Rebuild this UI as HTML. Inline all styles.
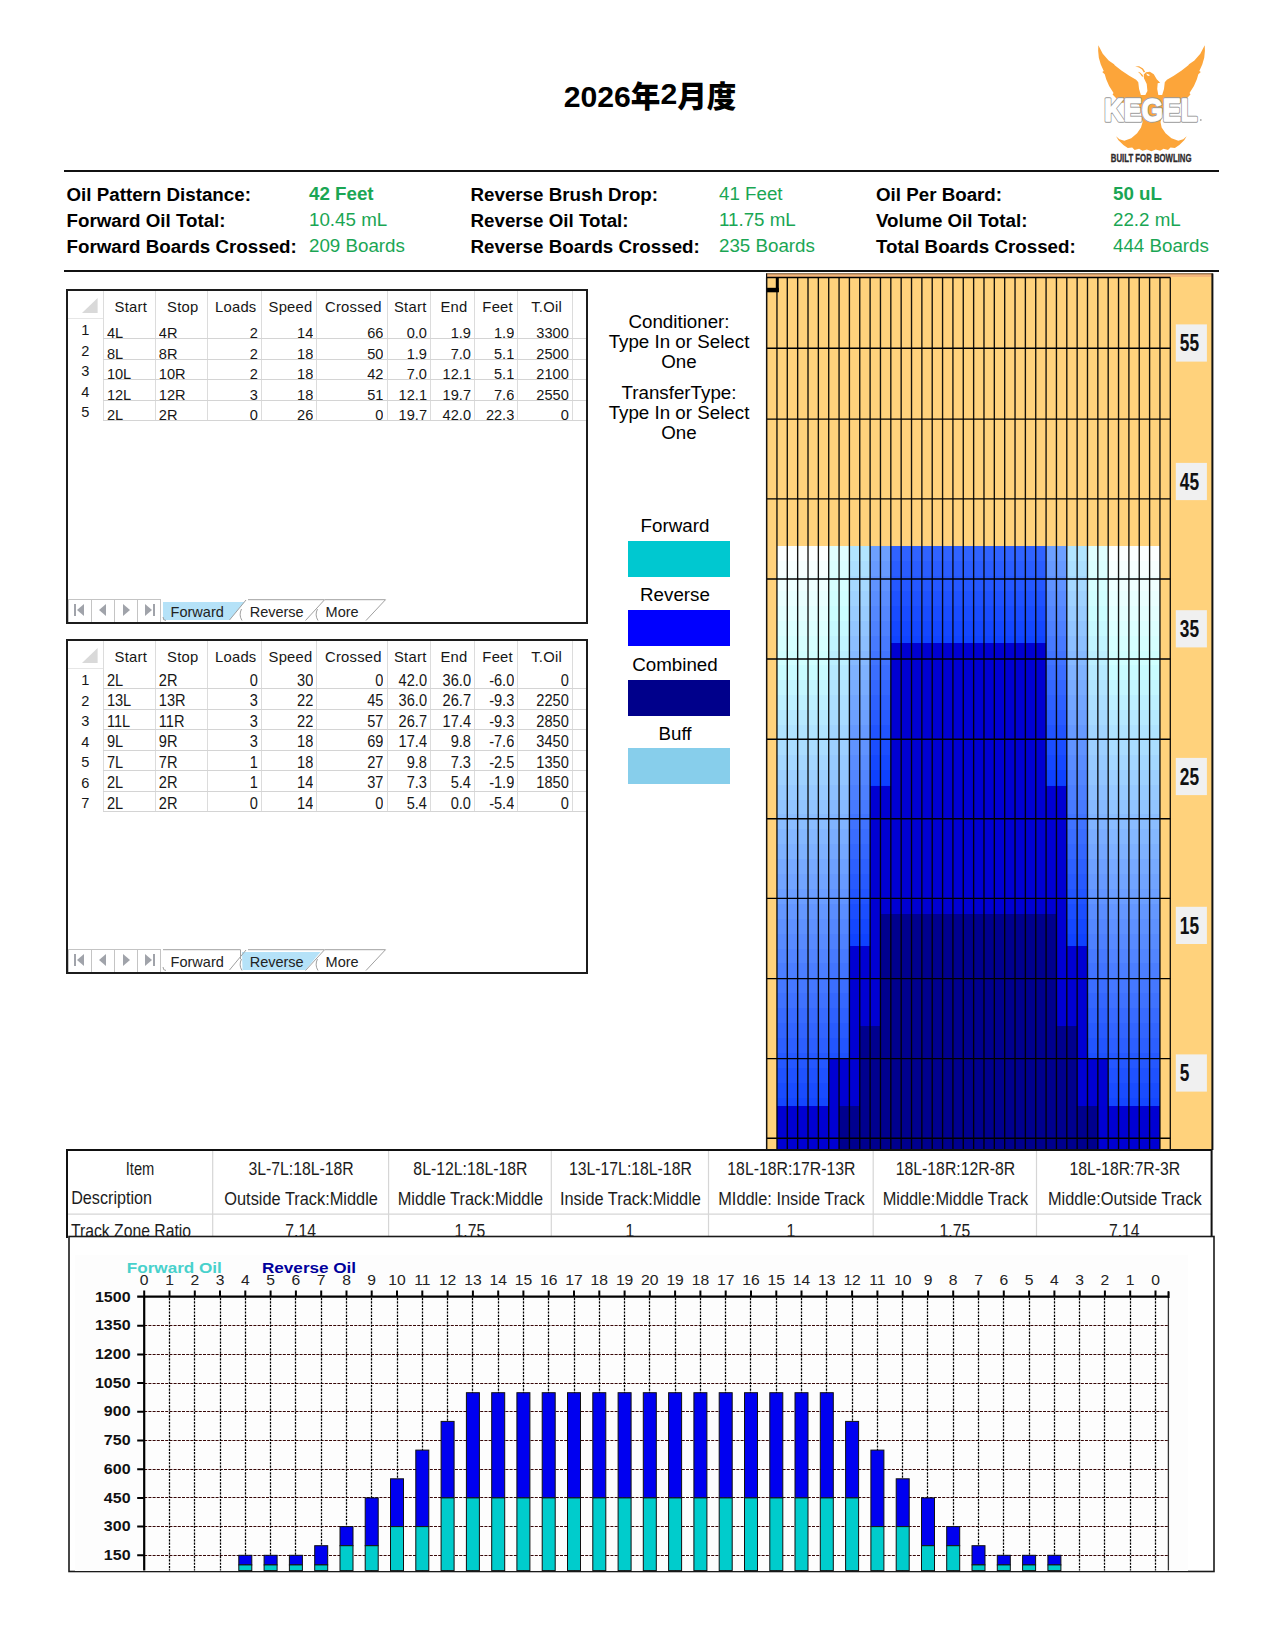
<!DOCTYPE html>
<html lang="ja"><head><meta charset="utf-8"><title>Oil Pattern 2026年2月度</title>
<style>
html,body{margin:0;padding:0;background:#fff;}
body{width:1274px;height:1651px;position:relative;overflow:hidden;font-family:"Liberation Sans","Noto Sans CJK JP",sans-serif;color:#000;}
.abs{position:absolute;}
.title{position:absolute;left:0;width:1300px;top:77.4px;text-align:center;font-weight:bold;font-size:30.2px;line-height:36px;letter-spacing:0;white-space:nowrap;}
.title .cj{font-family:"Noto Sans CJK JP","Liberation Sans",sans-serif;font-size:29.6px;font-weight:900;}
.title .up{position:relative;top:-3px;}
.rule{position:absolute;left:64px;width:1155px;height:2px;background:#111;}
.st{position:absolute;font-size:18.75px;line-height:26px;white-space:nowrap;}
.st b{font-weight:bold;}
.lb{font-weight:bold;color:#000;}
.gv{color:#1aa654;}

.gbox{position:absolute;left:66px;width:518px;border:2px solid #1c1c1c;background:#fff;overflow:hidden;box-sizing:content-box;}
.gbox div{position:absolute;white-space:nowrap;}
.gh{font-size:14.8px;line-height:18px;color:#161616;text-align:center;letter-spacing:0.25px;}
.gc{font-size:14.6px;line-height:18px;color:#161616;height:18.5px;overflow:hidden;}
.gn{font-size:14.6px;line-height:18px;color:#161616;text-align:center;}
.vl{width:1px;background:#dcdcdc;}
.hl{height:1px;background:#d4d4d4;}
.tab{font-size:14.5px;line-height:18px;color:#222;}
.nav{border:1px solid #c4c4c4;height:21.5px;width:22px;background:#fff;}

.ct{position:absolute;left:594px;width:170px;text-align:center;font-size:18.75px;line-height:20.3px;color:#000;white-space:nowrap;}
.lg{position:absolute;left:615px;width:120px;text-align:center;font-size:18.75px;line-height:20px;color:#000;}
.sw{position:absolute;left:628px;width:101.5px;height:35.7px;}
</style></head>
<body>
<div class="title">2026<span class="cj">年</span><span class="up">2</span><span class="cj">月度</span></div>
<div class="rule" style="top:169.5px"></div>
<div class="rule" style="top:269.5px"></div>
<div class="st lb" style="left:66.5px;top:181.7px">Oil Pattern Distance:</div>
<div class="st gv" style="left:309px;top:181.0px;font-weight:bold;">42 Feet</div>
<div class="st lb" style="left:66.5px;top:207.7px">Forward Oil Total:</div>
<div class="st gv" style="left:309px;top:207.0px;">10.45 mL</div>
<div class="st lb" style="left:66.5px;top:233.7px">Forward Boards Crossed:</div>
<div class="st gv" style="left:309px;top:233.0px;">209 Boards</div>
<div class="st lb" style="left:470.5px;top:181.7px">Reverse Brush Drop:</div>
<div class="st gv" style="left:719px;top:181.0px;">41 Feet</div>
<div class="st lb" style="left:470.5px;top:207.7px">Reverse Oil Total:</div>
<div class="st gv" style="left:719px;top:207.0px;">11.75 mL</div>
<div class="st lb" style="left:470.5px;top:233.7px">Reverse Boards Crossed:</div>
<div class="st gv" style="left:719px;top:233.0px;">235 Boards</div>
<div class="st lb" style="left:876px;top:181.7px">Oil Per Board:</div>
<div class="st gv" style="left:1113px;top:181.0px;font-weight:bold;">50 uL</div>
<div class="st lb" style="left:876px;top:207.7px">Volume Oil Total:</div>
<div class="st gv" style="left:1113px;top:207.0px;">22.2 mL</div>
<div class="st lb" style="left:876px;top:233.7px">Total Boards Crossed:</div>
<div class="st gv" style="left:1113px;top:233.0px;">444 Boards</div>
<svg style="position:absolute;left:1060px;top:30px" width="180" height="150" viewBox="1060 30 180 150">
<path fill="#fca53a" d="M1098.34,45.36 L1102.76,53.70 L1108.65,60.57 L1114.04,64.30 L1114.73,65.28 L1121.40,70.38 L1129.25,75.78 L1136.12,79.71 L1138.28,82.36 L1139.07,89.03 L1141.03,95.41 L1143.78,98.06 L1144.96,102.77 L1119.44,102.77 L1115.71,97.67 L1112.57,94.62 L1113.55,92.96 L1109.14,86.09 L1106.19,79.22 L1104.72,74.31 L1102.27,71.95 L1103.74,70.88 L1100.79,64.50 L1098.83,57.63 L1098.15,50.76Z"/>
<path fill="#fca53a" d="M1204.72,45.36 L1200.30,53.70 L1194.42,60.57 L1189.02,64.30 L1188.33,65.28 L1181.66,70.38 L1173.81,75.78 L1166.94,79.71 L1164.78,82.36 L1163.99,89.03 L1162.03,95.41 L1159.28,98.06 L1158.11,102.77 L1183.62,102.77 L1187.35,97.67 L1190.49,94.62 L1189.51,92.96 L1193.93,86.09 L1196.87,79.22 L1198.34,74.31 L1200.79,71.95 L1199.32,70.88 L1202.27,64.50 L1204.23,57.63 L1204.92,50.76Z"/>
<path fill="#fca53a" d="M1143.78,98.06 L1147.41,90.99 L1146.72,84.12 L1143.97,78.24 L1143.78,74.51 L1145.94,72.35 L1149.86,71.86 L1153.79,74.31 L1156.73,79.22 L1160.17,82.65 L1157.71,83.34 L1157.22,89.03 L1158.69,96.88 L1159.87,98.06 L1160.66,102.77 L1142.99,102.77Z"/>
<path fill="#fff" d="M1146.43,73.53 L1149.86,75.10 L1148.88,76.08 L1146.92,75.29Z"/>
<path fill="#fca53a" d="M1135.14,66.46 L1139.07,66.26 L1142.99,68.42 L1145.15,71.86 L1143.78,72.54 L1142.01,69.40 L1139.07,67.44Z"/>
<path fill="#fca53a" d="M1137.89,71.86 L1140.05,72.54 L1142.50,74.80 L1143.48,76.76 L1142.01,76.47 L1140.25,74.11Z"/>
<path fill="#fca53a" d="M1119.44,95.00 L1184.21,95.00 L1178.32,100.89 L1164.58,104.81 L1160.66,121.50 L1142.50,121.50 L1139.07,104.81 L1125.33,100.89Z"/>
<path fill="#fca53a" d="M1142.99,120.52 L1141.03,127.38 L1137.11,133.27 L1131.22,138.18 L1124.35,140.63 L1119.44,139.16 L1116.01,136.22 L1118.46,140.34 L1123.37,145.05 L1127.78,147.99 L1132.20,147.50 L1134.65,149.96 L1139.07,148.78 L1142.50,150.74 L1146.92,149.47 L1151.33,151.13 L1155.75,149.47 L1160.17,150.74 L1163.60,148.78 L1168.02,149.96 L1170.47,147.50 L1174.89,147.99 L1179.30,145.05 L1184.21,140.34 L1186.66,136.22 L1183.23,139.36 L1178.32,140.63 L1171.45,138.18 L1165.56,133.27 L1161.64,127.38 L1160.17,120.52Z"/>
<text x="1150.8" y="121.2" text-anchor="middle" font-family="Liberation Sans, sans-serif" font-weight="bold" font-size="31.5" textLength="93" lengthAdjust="spacingAndGlyphs" fill="#9a9a9a" stroke="#9a9a9a" stroke-width="3.4" stroke-linejoin="round">KEGEL</text>
<text x="1150.8" y="121.2" text-anchor="middle" font-family="Liberation Sans, sans-serif" font-weight="bold" font-size="31.5" textLength="93" lengthAdjust="spacingAndGlyphs" fill="#fff" stroke="#fff" stroke-width="1.6" stroke-linejoin="round">KEGEL</text>
<circle cx="1200.8" cy="120" r="0.9" fill="#aaa"/>
<text x="1151.2" y="161.5" text-anchor="middle" font-family="Liberation Sans, sans-serif" font-weight="bold" font-size="11.4" fill="#2e2a2b" stroke="#2e2a2b" stroke-width="0.35" textLength="80.7" lengthAdjust="spacingAndGlyphs">BUILT FOR BOWLING</text>
</svg>
<div class="gbox" style="top:289px;height:331.4px">
<svg class="abs" style="position:absolute;left:14.299999999999997px;top:7.399999999999977px" width="16" height="16"><polygon points="15.6,0 15.6,15 0,15" fill="#d9d9d9"/></svg>
<div class="hl" style="left:0;top:27px;width:35.400000000000006px;background:#e6e6e6"></div>
<div class="vl" style="left:34.9px;top:0;height:130.1px"></div>
<div class="vl" style="left:86.8px;top:0;height:130.1px"></div>
<div class="vl" style="left:138.7px;top:0;height:130.1px"></div>
<div class="vl" style="left:192.8px;top:0;height:130.1px"></div>
<div class="vl" style="left:248.3px;top:0;height:130.1px"></div>
<div class="vl" style="left:318.5px;top:0;height:130.1px"></div>
<div class="vl" style="left:362.0px;top:0;height:130.1px"></div>
<div class="vl" style="left:406.0px;top:0;height:130.1px"></div>
<div class="vl" style="left:449.3px;top:0;height:130.1px"></div>
<div class="vl" style="left:503.8px;top:0;height:130.1px"></div>
<div class="gh" style="left:36.9px;width:51.9px;top:6.5px">Start</div>
<div class="gh" style="left:88.8px;width:51.9px;top:6.5px">Stop</div>
<div class="gh" style="left:140.7px;width:54.1px;top:6.5px">Loads</div>
<div class="gh" style="left:194.8px;width:55.5px;top:6.5px">Speed</div>
<div class="gh" style="left:250.3px;width:70.2px;top:6.5px">Crossed</div>
<div class="gh" style="left:320.5px;width:43.5px;top:6.5px">Start</div>
<div class="gh" style="left:364.0px;width:44.0px;top:6.5px">End</div>
<div class="gh" style="left:408.0px;width:43.3px;top:6.5px">Feet</div>
<div class="gh" style="left:451.3px;width:54.5px;top:6.5px">T.Oil</div>
<div class="hl" style="left:35.4px;top:47.1px;width:483.6px"></div>
<div class="gn" style="left:0;width:34.4px;top:30.1px">1</div>
<div class="gc" style="left:38.9px;width:47.9px;text-align:left;top:33.1px;transform:scaleY(1.05);transform-origin:50% 80%">4L</div>
<div class="gc" style="left:90.8px;width:47.9px;text-align:left;top:33.1px;transform:scaleY(1.05);transform-origin:50% 80%">4R</div>
<div class="gc" style="left:139.2px;width:50.6px;text-align:right;top:33.1px;transform:scaleY(1.05);transform-origin:50% 80%">2</div>
<div class="gc" style="left:193.3px;width:52.0px;text-align:right;top:33.1px;transform:scaleY(1.05);transform-origin:50% 80%">14</div>
<div class="gc" style="left:248.8px;width:66.7px;text-align:right;top:33.1px;transform:scaleY(1.05);transform-origin:50% 80%">66</div>
<div class="gc" style="left:319.0px;width:40.0px;text-align:right;top:33.1px;transform:scaleY(1.05);transform-origin:50% 80%">0.0</div>
<div class="gc" style="left:362.5px;width:40.5px;text-align:right;top:33.1px;transform:scaleY(1.05);transform-origin:50% 80%">1.9</div>
<div class="gc" style="left:406.5px;width:39.8px;text-align:right;top:33.1px;transform:scaleY(1.05);transform-origin:50% 80%">1.9</div>
<div class="gc" style="left:449.8px;width:51.0px;text-align:right;top:33.1px;transform:scaleY(1.05);transform-origin:50% 80%">3300</div>
<div class="hl" style="left:35.4px;top:67.6px;width:483.6px"></div>
<div class="gn" style="left:0;width:34.4px;top:50.6px">2</div>
<div class="gc" style="left:38.9px;width:47.9px;text-align:left;top:53.6px;transform:scaleY(1.05);transform-origin:50% 80%">8L</div>
<div class="gc" style="left:90.8px;width:47.9px;text-align:left;top:53.6px;transform:scaleY(1.05);transform-origin:50% 80%">8R</div>
<div class="gc" style="left:139.2px;width:50.6px;text-align:right;top:53.6px;transform:scaleY(1.05);transform-origin:50% 80%">2</div>
<div class="gc" style="left:193.3px;width:52.0px;text-align:right;top:53.6px;transform:scaleY(1.05);transform-origin:50% 80%">18</div>
<div class="gc" style="left:248.8px;width:66.7px;text-align:right;top:53.6px;transform:scaleY(1.05);transform-origin:50% 80%">50</div>
<div class="gc" style="left:319.0px;width:40.0px;text-align:right;top:53.6px;transform:scaleY(1.05);transform-origin:50% 80%">1.9</div>
<div class="gc" style="left:362.5px;width:40.5px;text-align:right;top:53.6px;transform:scaleY(1.05);transform-origin:50% 80%">7.0</div>
<div class="gc" style="left:406.5px;width:39.8px;text-align:right;top:53.6px;transform:scaleY(1.05);transform-origin:50% 80%">5.1</div>
<div class="gc" style="left:449.8px;width:51.0px;text-align:right;top:53.6px;transform:scaleY(1.05);transform-origin:50% 80%">2500</div>
<div class="hl" style="left:35.4px;top:88.1px;width:483.6px"></div>
<div class="gn" style="left:0;width:34.4px;top:71.1px">3</div>
<div class="gc" style="left:38.9px;width:47.9px;text-align:left;top:74.1px;transform:scaleY(1.05);transform-origin:50% 80%">10L</div>
<div class="gc" style="left:90.8px;width:47.9px;text-align:left;top:74.1px;transform:scaleY(1.05);transform-origin:50% 80%">10R</div>
<div class="gc" style="left:139.2px;width:50.6px;text-align:right;top:74.1px;transform:scaleY(1.05);transform-origin:50% 80%">2</div>
<div class="gc" style="left:193.3px;width:52.0px;text-align:right;top:74.1px;transform:scaleY(1.05);transform-origin:50% 80%">18</div>
<div class="gc" style="left:248.8px;width:66.7px;text-align:right;top:74.1px;transform:scaleY(1.05);transform-origin:50% 80%">42</div>
<div class="gc" style="left:319.0px;width:40.0px;text-align:right;top:74.1px;transform:scaleY(1.05);transform-origin:50% 80%">7.0</div>
<div class="gc" style="left:362.5px;width:40.5px;text-align:right;top:74.1px;transform:scaleY(1.05);transform-origin:50% 80%">12.1</div>
<div class="gc" style="left:406.5px;width:39.8px;text-align:right;top:74.1px;transform:scaleY(1.05);transform-origin:50% 80%">5.1</div>
<div class="gc" style="left:449.8px;width:51.0px;text-align:right;top:74.1px;transform:scaleY(1.05);transform-origin:50% 80%">2100</div>
<div class="hl" style="left:35.4px;top:108.6px;width:483.6px"></div>
<div class="gn" style="left:0;width:34.4px;top:91.6px">4</div>
<div class="gc" style="left:38.9px;width:47.9px;text-align:left;top:94.6px;transform:scaleY(1.05);transform-origin:50% 80%">12L</div>
<div class="gc" style="left:90.8px;width:47.9px;text-align:left;top:94.6px;transform:scaleY(1.05);transform-origin:50% 80%">12R</div>
<div class="gc" style="left:139.2px;width:50.6px;text-align:right;top:94.6px;transform:scaleY(1.05);transform-origin:50% 80%">3</div>
<div class="gc" style="left:193.3px;width:52.0px;text-align:right;top:94.6px;transform:scaleY(1.05);transform-origin:50% 80%">18</div>
<div class="gc" style="left:248.8px;width:66.7px;text-align:right;top:94.6px;transform:scaleY(1.05);transform-origin:50% 80%">51</div>
<div class="gc" style="left:319.0px;width:40.0px;text-align:right;top:94.6px;transform:scaleY(1.05);transform-origin:50% 80%">12.1</div>
<div class="gc" style="left:362.5px;width:40.5px;text-align:right;top:94.6px;transform:scaleY(1.05);transform-origin:50% 80%">19.7</div>
<div class="gc" style="left:406.5px;width:39.8px;text-align:right;top:94.6px;transform:scaleY(1.05);transform-origin:50% 80%">7.6</div>
<div class="gc" style="left:449.8px;width:51.0px;text-align:right;top:94.6px;transform:scaleY(1.05);transform-origin:50% 80%">2550</div>
<div class="hl" style="left:35.4px;top:129.1px;width:483.6px"></div>
<div class="gn" style="left:0;width:34.4px;top:112.1px">5</div>
<div class="gc" style="left:38.9px;width:47.9px;text-align:left;top:115.1px;transform:scaleY(1.05);transform-origin:50% 80%">2L</div>
<div class="gc" style="left:90.8px;width:47.9px;text-align:left;top:115.1px;transform:scaleY(1.05);transform-origin:50% 80%">2R</div>
<div class="gc" style="left:139.2px;width:50.6px;text-align:right;top:115.1px;transform:scaleY(1.05);transform-origin:50% 80%">0</div>
<div class="gc" style="left:193.3px;width:52.0px;text-align:right;top:115.1px;transform:scaleY(1.05);transform-origin:50% 80%">26</div>
<div class="gc" style="left:248.8px;width:66.7px;text-align:right;top:115.1px;transform:scaleY(1.05);transform-origin:50% 80%">0</div>
<div class="gc" style="left:319.0px;width:40.0px;text-align:right;top:115.1px;transform:scaleY(1.05);transform-origin:50% 80%">19.7</div>
<div class="gc" style="left:362.5px;width:40.5px;text-align:right;top:115.1px;transform:scaleY(1.05);transform-origin:50% 80%">42.0</div>
<div class="gc" style="left:406.5px;width:39.8px;text-align:right;top:115.1px;transform:scaleY(1.05);transform-origin:50% 80%">22.3</div>
<div class="gc" style="left:449.8px;width:51.0px;text-align:right;top:115.1px;transform:scaleY(1.05);transform-origin:50% 80%">0</div>
<div class="nav" style="left:0.0px;top:308.20000000000005px"></div>
<div class="nav" style="left:23.0px;top:308.20000000000005px"></div>
<div class="nav" style="left:46.0px;top:308.20000000000005px"></div>
<div class="nav" style="left:69.0px;top:308.20000000000005px"></div>
<svg style="position:absolute;left:0;top:308.20000000000005px" width="94" height="22"><rect x="6" y="5" width="2" height="12" fill="#a0a3aa"/><polygon points="16,5 16,17 9,11" fill="#a0a3aa"/><polygon points="38,5 38,17 31,11" fill="#a0a3aa"/><polygon points="55,5 55,17 62,11" fill="#a0a3aa"/><polygon points="77,5 77,17 84,11" fill="#a0a3aa"/><rect x="85" y="5" width="2" height="12" fill="#a0a3aa"/></svg>
<svg style="position:absolute;left:92.0px;top:307px" width="240" height="24" viewBox="160 598 240 24"><polygon points="163,602 244.5,602 229.5,620 163,620" fill="#b5e2f8"/><path d="M246,600 L229.5,620" stroke="#a0a0a0" fill="none"/><path d="M163,617 Q163,620.5 166,620.5" stroke="#a0a0a0" fill="none"/><path d="M248,599.7 H324.6 L305.5,620.5" stroke="#a0a0a0" fill="none"/><path d="M241.5,609 Q238.5,615 242,620.5" stroke="#a0a0a0" fill="none"/><path d="M325,599.7 H385.5 L366,620.5" stroke="#a0a0a0" fill="none"/><path d="M317.5,609 Q314.5,615 318,620.5" stroke="#a0a0a0" fill="none"/></svg>
<div class="tab" style="left:102.6px;top:312.2px">Forward</div>
<div class="tab" style="left:181.7px;top:312.2px">Reverse</div>
<div class="tab" style="left:257.6px;top:312.2px">More</div>
</div>
<div class="gbox" style="top:639px;height:331.4px">
<svg class="abs" style="position:absolute;left:14.299999999999997px;top:7.399999999999977px" width="16" height="16"><polygon points="15.6,0 15.6,15 0,15" fill="#d9d9d9"/></svg>
<div class="hl" style="left:0;top:27px;width:35.400000000000006px;background:#e6e6e6"></div>
<div class="vl" style="left:34.9px;top:0;height:171.1px"></div>
<div class="vl" style="left:86.8px;top:0;height:171.1px"></div>
<div class="vl" style="left:138.7px;top:0;height:171.1px"></div>
<div class="vl" style="left:192.8px;top:0;height:171.1px"></div>
<div class="vl" style="left:248.3px;top:0;height:171.1px"></div>
<div class="vl" style="left:318.5px;top:0;height:171.1px"></div>
<div class="vl" style="left:362.0px;top:0;height:171.1px"></div>
<div class="vl" style="left:406.0px;top:0;height:171.1px"></div>
<div class="vl" style="left:449.3px;top:0;height:171.1px"></div>
<div class="vl" style="left:503.8px;top:0;height:171.1px"></div>
<div class="gh" style="left:36.9px;width:51.9px;top:6.5px">Start</div>
<div class="gh" style="left:88.8px;width:51.9px;top:6.5px">Stop</div>
<div class="gh" style="left:140.7px;width:54.1px;top:6.5px">Loads</div>
<div class="gh" style="left:194.8px;width:55.5px;top:6.5px">Speed</div>
<div class="gh" style="left:250.3px;width:70.2px;top:6.5px">Crossed</div>
<div class="gh" style="left:320.5px;width:43.5px;top:6.5px">Start</div>
<div class="gh" style="left:364.0px;width:44.0px;top:6.5px">End</div>
<div class="gh" style="left:408.0px;width:43.3px;top:6.5px">Feet</div>
<div class="gh" style="left:451.3px;width:54.5px;top:6.5px">T.Oil</div>
<div class="hl" style="left:35.4px;top:47.1px;width:483.6px"></div>
<div class="gn" style="left:0;width:34.4px;top:30.1px">1</div>
<div class="gc" style="left:38.9px;width:47.9px;text-align:left;top:30.7px;transform:scaleY(1.09);transform-origin:50% 80%">2L</div>
<div class="gc" style="left:90.8px;width:47.9px;text-align:left;top:30.7px;transform:scaleY(1.09);transform-origin:50% 80%">2R</div>
<div class="gc" style="left:139.2px;width:50.6px;text-align:right;top:30.7px;transform:scaleY(1.09);transform-origin:50% 80%">0</div>
<div class="gc" style="left:193.3px;width:52.0px;text-align:right;top:30.7px;transform:scaleY(1.09);transform-origin:50% 80%">30</div>
<div class="gc" style="left:248.8px;width:66.7px;text-align:right;top:30.7px;transform:scaleY(1.09);transform-origin:50% 80%">0</div>
<div class="gc" style="left:319.0px;width:40.0px;text-align:right;top:30.7px;transform:scaleY(1.09);transform-origin:50% 80%">42.0</div>
<div class="gc" style="left:362.5px;width:40.5px;text-align:right;top:30.7px;transform:scaleY(1.09);transform-origin:50% 80%">36.0</div>
<div class="gc" style="left:406.5px;width:39.8px;text-align:right;top:30.7px;transform:scaleY(1.09);transform-origin:50% 80%">-6.0</div>
<div class="gc" style="left:449.8px;width:51.0px;text-align:right;top:30.7px;transform:scaleY(1.09);transform-origin:50% 80%">0</div>
<div class="hl" style="left:35.4px;top:67.6px;width:483.6px"></div>
<div class="gn" style="left:0;width:34.4px;top:50.6px">2</div>
<div class="gc" style="left:38.9px;width:47.9px;text-align:left;top:51.2px;transform:scaleY(1.09);transform-origin:50% 80%">13L</div>
<div class="gc" style="left:90.8px;width:47.9px;text-align:left;top:51.2px;transform:scaleY(1.09);transform-origin:50% 80%">13R</div>
<div class="gc" style="left:139.2px;width:50.6px;text-align:right;top:51.2px;transform:scaleY(1.09);transform-origin:50% 80%">3</div>
<div class="gc" style="left:193.3px;width:52.0px;text-align:right;top:51.2px;transform:scaleY(1.09);transform-origin:50% 80%">22</div>
<div class="gc" style="left:248.8px;width:66.7px;text-align:right;top:51.2px;transform:scaleY(1.09);transform-origin:50% 80%">45</div>
<div class="gc" style="left:319.0px;width:40.0px;text-align:right;top:51.2px;transform:scaleY(1.09);transform-origin:50% 80%">36.0</div>
<div class="gc" style="left:362.5px;width:40.5px;text-align:right;top:51.2px;transform:scaleY(1.09);transform-origin:50% 80%">26.7</div>
<div class="gc" style="left:406.5px;width:39.8px;text-align:right;top:51.2px;transform:scaleY(1.09);transform-origin:50% 80%">-9.3</div>
<div class="gc" style="left:449.8px;width:51.0px;text-align:right;top:51.2px;transform:scaleY(1.09);transform-origin:50% 80%">2250</div>
<div class="hl" style="left:35.4px;top:88.1px;width:483.6px"></div>
<div class="gn" style="left:0;width:34.4px;top:71.1px">3</div>
<div class="gc" style="left:38.9px;width:47.9px;text-align:left;top:71.7px;transform:scaleY(1.09);transform-origin:50% 80%">11L</div>
<div class="gc" style="left:90.8px;width:47.9px;text-align:left;top:71.7px;transform:scaleY(1.09);transform-origin:50% 80%">11R</div>
<div class="gc" style="left:139.2px;width:50.6px;text-align:right;top:71.7px;transform:scaleY(1.09);transform-origin:50% 80%">3</div>
<div class="gc" style="left:193.3px;width:52.0px;text-align:right;top:71.7px;transform:scaleY(1.09);transform-origin:50% 80%">22</div>
<div class="gc" style="left:248.8px;width:66.7px;text-align:right;top:71.7px;transform:scaleY(1.09);transform-origin:50% 80%">57</div>
<div class="gc" style="left:319.0px;width:40.0px;text-align:right;top:71.7px;transform:scaleY(1.09);transform-origin:50% 80%">26.7</div>
<div class="gc" style="left:362.5px;width:40.5px;text-align:right;top:71.7px;transform:scaleY(1.09);transform-origin:50% 80%">17.4</div>
<div class="gc" style="left:406.5px;width:39.8px;text-align:right;top:71.7px;transform:scaleY(1.09);transform-origin:50% 80%">-9.3</div>
<div class="gc" style="left:449.8px;width:51.0px;text-align:right;top:71.7px;transform:scaleY(1.09);transform-origin:50% 80%">2850</div>
<div class="hl" style="left:35.4px;top:108.6px;width:483.6px"></div>
<div class="gn" style="left:0;width:34.4px;top:91.6px">4</div>
<div class="gc" style="left:38.9px;width:47.9px;text-align:left;top:92.2px;transform:scaleY(1.09);transform-origin:50% 80%">9L</div>
<div class="gc" style="left:90.8px;width:47.9px;text-align:left;top:92.2px;transform:scaleY(1.09);transform-origin:50% 80%">9R</div>
<div class="gc" style="left:139.2px;width:50.6px;text-align:right;top:92.2px;transform:scaleY(1.09);transform-origin:50% 80%">3</div>
<div class="gc" style="left:193.3px;width:52.0px;text-align:right;top:92.2px;transform:scaleY(1.09);transform-origin:50% 80%">18</div>
<div class="gc" style="left:248.8px;width:66.7px;text-align:right;top:92.2px;transform:scaleY(1.09);transform-origin:50% 80%">69</div>
<div class="gc" style="left:319.0px;width:40.0px;text-align:right;top:92.2px;transform:scaleY(1.09);transform-origin:50% 80%">17.4</div>
<div class="gc" style="left:362.5px;width:40.5px;text-align:right;top:92.2px;transform:scaleY(1.09);transform-origin:50% 80%">9.8</div>
<div class="gc" style="left:406.5px;width:39.8px;text-align:right;top:92.2px;transform:scaleY(1.09);transform-origin:50% 80%">-7.6</div>
<div class="gc" style="left:449.8px;width:51.0px;text-align:right;top:92.2px;transform:scaleY(1.09);transform-origin:50% 80%">3450</div>
<div class="hl" style="left:35.4px;top:129.1px;width:483.6px"></div>
<div class="gn" style="left:0;width:34.4px;top:112.1px">5</div>
<div class="gc" style="left:38.9px;width:47.9px;text-align:left;top:112.7px;transform:scaleY(1.09);transform-origin:50% 80%">7L</div>
<div class="gc" style="left:90.8px;width:47.9px;text-align:left;top:112.7px;transform:scaleY(1.09);transform-origin:50% 80%">7R</div>
<div class="gc" style="left:139.2px;width:50.6px;text-align:right;top:112.7px;transform:scaleY(1.09);transform-origin:50% 80%">1</div>
<div class="gc" style="left:193.3px;width:52.0px;text-align:right;top:112.7px;transform:scaleY(1.09);transform-origin:50% 80%">18</div>
<div class="gc" style="left:248.8px;width:66.7px;text-align:right;top:112.7px;transform:scaleY(1.09);transform-origin:50% 80%">27</div>
<div class="gc" style="left:319.0px;width:40.0px;text-align:right;top:112.7px;transform:scaleY(1.09);transform-origin:50% 80%">9.8</div>
<div class="gc" style="left:362.5px;width:40.5px;text-align:right;top:112.7px;transform:scaleY(1.09);transform-origin:50% 80%">7.3</div>
<div class="gc" style="left:406.5px;width:39.8px;text-align:right;top:112.7px;transform:scaleY(1.09);transform-origin:50% 80%">-2.5</div>
<div class="gc" style="left:449.8px;width:51.0px;text-align:right;top:112.7px;transform:scaleY(1.09);transform-origin:50% 80%">1350</div>
<div class="hl" style="left:35.4px;top:149.6px;width:483.6px"></div>
<div class="gn" style="left:0;width:34.4px;top:132.6px">6</div>
<div class="gc" style="left:38.9px;width:47.9px;text-align:left;top:133.2px;transform:scaleY(1.09);transform-origin:50% 80%">2L</div>
<div class="gc" style="left:90.8px;width:47.9px;text-align:left;top:133.2px;transform:scaleY(1.09);transform-origin:50% 80%">2R</div>
<div class="gc" style="left:139.2px;width:50.6px;text-align:right;top:133.2px;transform:scaleY(1.09);transform-origin:50% 80%">1</div>
<div class="gc" style="left:193.3px;width:52.0px;text-align:right;top:133.2px;transform:scaleY(1.09);transform-origin:50% 80%">14</div>
<div class="gc" style="left:248.8px;width:66.7px;text-align:right;top:133.2px;transform:scaleY(1.09);transform-origin:50% 80%">37</div>
<div class="gc" style="left:319.0px;width:40.0px;text-align:right;top:133.2px;transform:scaleY(1.09);transform-origin:50% 80%">7.3</div>
<div class="gc" style="left:362.5px;width:40.5px;text-align:right;top:133.2px;transform:scaleY(1.09);transform-origin:50% 80%">5.4</div>
<div class="gc" style="left:406.5px;width:39.8px;text-align:right;top:133.2px;transform:scaleY(1.09);transform-origin:50% 80%">-1.9</div>
<div class="gc" style="left:449.8px;width:51.0px;text-align:right;top:133.2px;transform:scaleY(1.09);transform-origin:50% 80%">1850</div>
<div class="hl" style="left:35.4px;top:170.1px;width:483.6px"></div>
<div class="gn" style="left:0;width:34.4px;top:153.1px">7</div>
<div class="gc" style="left:38.9px;width:47.9px;text-align:left;top:153.7px;transform:scaleY(1.09);transform-origin:50% 80%">2L</div>
<div class="gc" style="left:90.8px;width:47.9px;text-align:left;top:153.7px;transform:scaleY(1.09);transform-origin:50% 80%">2R</div>
<div class="gc" style="left:139.2px;width:50.6px;text-align:right;top:153.7px;transform:scaleY(1.09);transform-origin:50% 80%">0</div>
<div class="gc" style="left:193.3px;width:52.0px;text-align:right;top:153.7px;transform:scaleY(1.09);transform-origin:50% 80%">14</div>
<div class="gc" style="left:248.8px;width:66.7px;text-align:right;top:153.7px;transform:scaleY(1.09);transform-origin:50% 80%">0</div>
<div class="gc" style="left:319.0px;width:40.0px;text-align:right;top:153.7px;transform:scaleY(1.09);transform-origin:50% 80%">5.4</div>
<div class="gc" style="left:362.5px;width:40.5px;text-align:right;top:153.7px;transform:scaleY(1.09);transform-origin:50% 80%">0.0</div>
<div class="gc" style="left:406.5px;width:39.8px;text-align:right;top:153.7px;transform:scaleY(1.09);transform-origin:50% 80%">-5.4</div>
<div class="gc" style="left:449.8px;width:51.0px;text-align:right;top:153.7px;transform:scaleY(1.09);transform-origin:50% 80%">0</div>
<div class="nav" style="left:0.0px;top:308.20000000000005px"></div>
<div class="nav" style="left:23.0px;top:308.20000000000005px"></div>
<div class="nav" style="left:46.0px;top:308.20000000000005px"></div>
<div class="nav" style="left:69.0px;top:308.20000000000005px"></div>
<svg style="position:absolute;left:0;top:308.20000000000005px" width="94" height="22"><rect x="6" y="5" width="2" height="12" fill="#a0a3aa"/><polygon points="16,5 16,17 9,11" fill="#a0a3aa"/><polygon points="38,5 38,17 31,11" fill="#a0a3aa"/><polygon points="55,5 55,17 62,11" fill="#a0a3aa"/><polygon points="77,5 77,17 84,11" fill="#a0a3aa"/><rect x="85" y="5" width="2" height="12" fill="#a0a3aa"/></svg>
<svg style="position:absolute;left:92.0px;top:307px" width="240" height="24" viewBox="160 598 240 24"><polygon points="242,602 320.5,602 305.5,620 242.5,620" fill="#b5e2f8"/><path d="M163,599.7 H240.5 V609 M246,600 L229.5,620" stroke="#a0a0a0" fill="none"/><path d="M163,617 Q163,620.5 166,620.5" stroke="#a0a0a0" fill="none"/><path d="M248,599.7 H324.6 L305.5,620.5" stroke="#a0a0a0" fill="none"/><path d="M241.5,609 Q238.5,615 242,620.5" stroke="#a0a0a0" fill="none"/><path d="M325,599.7 H385.5 L366,620.5" stroke="#a0a0a0" fill="none"/><path d="M317.5,609 Q314.5,615 318,620.5" stroke="#a0a0a0" fill="none"/></svg>
<div class="tab" style="left:102.6px;top:312.2px">Forward</div>
<div class="tab" style="left:181.7px;top:312.2px">Reverse</div>
<div class="tab" style="left:257.6px;top:312.2px">More</div>
</div>
<div class="ct" style="top:311.5px">Conditioner:<br>Type In or Select<br>One</div>
<div class="ct" style="top:382.5px">TransferType:<br>Type In or Select<br>One</div>
<div class="lg" style="top:516.2px">Forward</div>
<div class="sw" style="top:541px;background:#00c8d0"></div>
<div class="lg" style="top:585.4px">Reverse</div>
<div class="sw" style="top:610px;background:#0000ff"></div>
<div class="lg" style="top:655.2px">Combined</div>
<div class="sw" style="top:680.4px;background:#00008b"></div>
<div class="lg" style="top:724.4px">Buff</div>
<div class="sw" style="top:748.4px;background:#87ceeb"></div>
<svg class="abs" style="position:absolute;left:0;top:0" width="1274" height="1651" viewBox="0 0 1274 1651">
<rect x="766" y="273.5" width="447" height="876.5" fill="#ffd27c"/>
<rect x="766" y="273.5" width="447" height="3.5" fill="#f6b67a"/>
<path d="M766,273.8H1213" stroke="#4a3a2a" stroke-width="0.8" fill="none"/>
<g shape-rendering="crispEdges">
<rect x="776.95" y="546.20" width="51.76" height="15.20" fill="#fcffff"/>
<rect x="1108.19" y="546.20" width="51.76" height="15.20" fill="#fcffff"/>
<rect x="776.95" y="561.10" width="51.76" height="15.20" fill="#f6ffff"/>
<rect x="1108.19" y="561.10" width="51.76" height="15.20" fill="#f6ffff"/>
<rect x="776.95" y="576.00" width="51.76" height="15.20" fill="#efffff"/>
<rect x="1108.19" y="576.00" width="51.76" height="15.20" fill="#efffff"/>
<rect x="776.95" y="590.90" width="51.76" height="15.20" fill="#e9ffff"/>
<rect x="1108.19" y="590.90" width="51.76" height="15.20" fill="#e9ffff"/>
<rect x="776.95" y="605.80" width="51.76" height="15.20" fill="#e3ffff"/>
<rect x="1108.19" y="605.80" width="51.76" height="15.20" fill="#e3ffff"/>
<rect x="776.95" y="620.70" width="51.76" height="15.20" fill="#dcffff"/>
<rect x="1108.19" y="620.70" width="51.76" height="15.20" fill="#dcffff"/>
<rect x="776.95" y="635.60" width="51.76" height="15.20" fill="#d6ffff"/>
<rect x="1108.19" y="635.60" width="51.76" height="15.20" fill="#d6ffff"/>
<rect x="776.95" y="650.50" width="51.76" height="15.20" fill="#d0ffff"/>
<rect x="1108.19" y="650.50" width="51.76" height="15.20" fill="#d0ffff"/>
<rect x="776.95" y="665.40" width="51.76" height="15.20" fill="#c9fcff"/>
<rect x="1108.19" y="665.40" width="51.76" height="15.20" fill="#c9fcff"/>
<rect x="776.95" y="680.30" width="51.76" height="15.20" fill="#c3f6ff"/>
<rect x="1108.19" y="680.30" width="51.76" height="15.20" fill="#c3f6ff"/>
<rect x="776.95" y="695.20" width="51.76" height="15.20" fill="#bdf0ff"/>
<rect x="1108.19" y="695.20" width="51.76" height="15.20" fill="#bdf0ff"/>
<rect x="776.95" y="710.10" width="51.76" height="15.20" fill="#b6e9ff"/>
<rect x="1108.19" y="710.10" width="51.76" height="15.20" fill="#b6e9ff"/>
<rect x="776.95" y="725.00" width="51.76" height="15.20" fill="#b0e3ff"/>
<rect x="1108.19" y="725.00" width="51.76" height="15.20" fill="#b0e3ff"/>
<rect x="776.95" y="739.90" width="51.76" height="15.20" fill="#aaddff"/>
<rect x="1108.19" y="739.90" width="51.76" height="15.20" fill="#aaddff"/>
<rect x="776.95" y="754.80" width="51.76" height="15.20" fill="#a4d7ff"/>
<rect x="1108.19" y="754.80" width="51.76" height="15.20" fill="#a4d7ff"/>
<rect x="776.95" y="769.70" width="51.76" height="15.20" fill="#9dd0ff"/>
<rect x="1108.19" y="769.70" width="51.76" height="15.20" fill="#9dd0ff"/>
<rect x="776.95" y="784.60" width="51.76" height="15.20" fill="#97caff"/>
<rect x="1108.19" y="784.60" width="51.76" height="15.20" fill="#97caff"/>
<rect x="776.95" y="799.50" width="51.76" height="15.20" fill="#91c4ff"/>
<rect x="1108.19" y="799.50" width="51.76" height="15.20" fill="#91c4ff"/>
<rect x="776.95" y="814.40" width="51.76" height="15.20" fill="#8abdff"/>
<rect x="1108.19" y="814.40" width="51.76" height="15.20" fill="#8abdff"/>
<rect x="776.95" y="829.30" width="51.76" height="15.20" fill="#84b7ff"/>
<rect x="1108.19" y="829.30" width="51.76" height="15.20" fill="#84b7ff"/>
<rect x="776.95" y="844.20" width="51.76" height="15.20" fill="#7eb1ff"/>
<rect x="1108.19" y="844.20" width="51.76" height="15.20" fill="#7eb1ff"/>
<rect x="776.95" y="859.10" width="51.76" height="15.20" fill="#77aaff"/>
<rect x="1108.19" y="859.10" width="51.76" height="15.20" fill="#77aaff"/>
<rect x="776.95" y="874.00" width="51.76" height="15.20" fill="#71a4ff"/>
<rect x="1108.19" y="874.00" width="51.76" height="15.20" fill="#71a4ff"/>
<rect x="776.95" y="888.90" width="51.76" height="15.20" fill="#6b9eff"/>
<rect x="1108.19" y="888.90" width="51.76" height="15.20" fill="#6b9eff"/>
<rect x="776.95" y="903.80" width="51.76" height="15.20" fill="#6497ff"/>
<rect x="1108.19" y="903.80" width="51.76" height="15.20" fill="#6497ff"/>
<rect x="776.95" y="918.70" width="51.76" height="15.20" fill="#5e91ff"/>
<rect x="1108.19" y="918.70" width="51.76" height="15.20" fill="#5e91ff"/>
<rect x="776.95" y="933.60" width="51.76" height="15.20" fill="#588bff"/>
<rect x="1108.19" y="933.60" width="51.76" height="15.20" fill="#588bff"/>
<rect x="776.95" y="948.50" width="51.76" height="15.20" fill="#5285ff"/>
<rect x="1108.19" y="948.50" width="51.76" height="15.20" fill="#5285ff"/>
<rect x="776.95" y="963.40" width="51.76" height="15.20" fill="#4b7eff"/>
<rect x="1108.19" y="963.40" width="51.76" height="15.20" fill="#4b7eff"/>
<rect x="776.95" y="978.30" width="51.76" height="15.20" fill="#4578ff"/>
<rect x="1108.19" y="978.30" width="51.76" height="15.20" fill="#4578ff"/>
<rect x="776.95" y="993.20" width="51.76" height="15.20" fill="#3f72ff"/>
<rect x="1108.19" y="993.20" width="51.76" height="15.20" fill="#3f72ff"/>
<rect x="776.95" y="1008.10" width="51.76" height="15.20" fill="#386bff"/>
<rect x="1108.19" y="1008.10" width="51.76" height="15.20" fill="#386bff"/>
<rect x="776.95" y="1023.00" width="51.76" height="15.20" fill="#3265ff"/>
<rect x="1108.19" y="1023.00" width="51.76" height="15.20" fill="#3265ff"/>
<rect x="776.95" y="1037.90" width="51.76" height="15.20" fill="#2c5fff"/>
<rect x="1108.19" y="1037.90" width="51.76" height="15.20" fill="#2c5fff"/>
<rect x="776.95" y="1052.80" width="51.76" height="15.20" fill="#2558ff"/>
<rect x="1108.19" y="1052.80" width="51.76" height="15.20" fill="#2558ff"/>
<rect x="776.95" y="1067.70" width="51.76" height="15.20" fill="#1f52ff"/>
<rect x="1108.19" y="1067.70" width="51.76" height="15.20" fill="#1f52ff"/>
<rect x="776.95" y="1082.60" width="51.76" height="15.20" fill="#194cff"/>
<rect x="1108.19" y="1082.60" width="51.76" height="15.20" fill="#194cff"/>
<rect x="776.95" y="1097.50" width="51.76" height="8.40" fill="#1447ff"/>
<rect x="1108.19" y="1097.50" width="51.76" height="8.40" fill="#1447ff"/>
<rect x="776.95" y="1105.60" width="51.76" height="43.90" fill="#0000d2"/>
<rect x="1108.19" y="1105.60" width="51.76" height="43.90" fill="#0000d2"/>
<rect x="828.71" y="546.20" width="20.70" height="15.20" fill="#e0ffff"/>
<rect x="1087.49" y="546.20" width="20.70" height="15.20" fill="#e0ffff"/>
<rect x="828.71" y="561.10" width="20.70" height="15.20" fill="#dbffff"/>
<rect x="1087.49" y="561.10" width="20.70" height="15.20" fill="#dbffff"/>
<rect x="828.71" y="576.00" width="20.70" height="15.20" fill="#d6ffff"/>
<rect x="1087.49" y="576.00" width="20.70" height="15.20" fill="#d6ffff"/>
<rect x="828.71" y="590.90" width="20.70" height="15.20" fill="#d1ffff"/>
<rect x="1087.49" y="590.90" width="20.70" height="15.20" fill="#d1ffff"/>
<rect x="828.71" y="605.80" width="20.70" height="15.20" fill="#cbfeff"/>
<rect x="1087.49" y="605.80" width="20.70" height="15.20" fill="#cbfeff"/>
<rect x="828.71" y="620.70" width="20.70" height="15.20" fill="#c6f9ff"/>
<rect x="1087.49" y="620.70" width="20.70" height="15.20" fill="#c6f9ff"/>
<rect x="828.71" y="635.60" width="20.70" height="15.20" fill="#c1f4ff"/>
<rect x="1087.49" y="635.60" width="20.70" height="15.20" fill="#c1f4ff"/>
<rect x="828.71" y="650.50" width="20.70" height="15.20" fill="#bcefff"/>
<rect x="1087.49" y="650.50" width="20.70" height="15.20" fill="#bcefff"/>
<rect x="828.71" y="665.40" width="20.70" height="15.20" fill="#b6e9ff"/>
<rect x="1087.49" y="665.40" width="20.70" height="15.20" fill="#b6e9ff"/>
<rect x="828.71" y="680.30" width="20.70" height="15.20" fill="#b1e4ff"/>
<rect x="1087.49" y="680.30" width="20.70" height="15.20" fill="#b1e4ff"/>
<rect x="828.71" y="695.20" width="20.70" height="15.20" fill="#acdfff"/>
<rect x="1087.49" y="695.20" width="20.70" height="15.20" fill="#acdfff"/>
<rect x="828.71" y="710.10" width="20.70" height="15.20" fill="#a7daff"/>
<rect x="1087.49" y="710.10" width="20.70" height="15.20" fill="#a7daff"/>
<rect x="828.71" y="725.00" width="20.70" height="15.20" fill="#a1d4ff"/>
<rect x="1087.49" y="725.00" width="20.70" height="15.20" fill="#a1d4ff"/>
<rect x="828.71" y="739.90" width="20.70" height="15.20" fill="#9ccfff"/>
<rect x="1087.49" y="739.90" width="20.70" height="15.20" fill="#9ccfff"/>
<rect x="828.71" y="754.80" width="20.70" height="15.20" fill="#97caff"/>
<rect x="1087.49" y="754.80" width="20.70" height="15.20" fill="#97caff"/>
<rect x="828.71" y="769.70" width="20.70" height="15.20" fill="#92c5ff"/>
<rect x="1087.49" y="769.70" width="20.70" height="15.20" fill="#92c5ff"/>
<rect x="828.71" y="784.60" width="20.70" height="15.20" fill="#8cbfff"/>
<rect x="1087.49" y="784.60" width="20.70" height="15.20" fill="#8cbfff"/>
<rect x="828.71" y="799.50" width="20.70" height="15.20" fill="#86b9ff"/>
<rect x="1087.49" y="799.50" width="20.70" height="15.20" fill="#86b9ff"/>
<rect x="828.71" y="814.40" width="20.70" height="15.20" fill="#80b3ff"/>
<rect x="1087.49" y="814.40" width="20.70" height="15.20" fill="#80b3ff"/>
<rect x="828.71" y="829.30" width="20.70" height="15.20" fill="#7aadff"/>
<rect x="1087.49" y="829.30" width="20.70" height="15.20" fill="#7aadff"/>
<rect x="828.71" y="844.20" width="20.70" height="15.20" fill="#74a7ff"/>
<rect x="1087.49" y="844.20" width="20.70" height="15.20" fill="#74a7ff"/>
<rect x="828.71" y="859.10" width="20.70" height="15.20" fill="#6da0ff"/>
<rect x="1087.49" y="859.10" width="20.70" height="15.20" fill="#6da0ff"/>
<rect x="828.71" y="874.00" width="20.70" height="15.20" fill="#679aff"/>
<rect x="1087.49" y="874.00" width="20.70" height="15.20" fill="#679aff"/>
<rect x="828.71" y="888.90" width="20.70" height="15.20" fill="#6194ff"/>
<rect x="1087.49" y="888.90" width="20.70" height="15.20" fill="#6194ff"/>
<rect x="828.71" y="903.80" width="20.70" height="15.20" fill="#5a8dff"/>
<rect x="1087.49" y="903.80" width="20.70" height="15.20" fill="#5a8dff"/>
<rect x="828.71" y="918.70" width="20.70" height="15.20" fill="#5487ff"/>
<rect x="1087.49" y="918.70" width="20.70" height="15.20" fill="#5487ff"/>
<rect x="828.71" y="933.60" width="20.70" height="15.20" fill="#4e81ff"/>
<rect x="1087.49" y="933.60" width="20.70" height="15.20" fill="#4e81ff"/>
<rect x="828.71" y="948.50" width="20.70" height="15.20" fill="#477aff"/>
<rect x="1087.49" y="948.50" width="20.70" height="15.20" fill="#477aff"/>
<rect x="828.71" y="963.40" width="20.70" height="15.20" fill="#4174ff"/>
<rect x="1087.49" y="963.40" width="20.70" height="15.20" fill="#4174ff"/>
<rect x="828.71" y="978.30" width="20.70" height="15.20" fill="#3b6eff"/>
<rect x="1087.49" y="978.30" width="20.70" height="15.20" fill="#3b6eff"/>
<rect x="828.71" y="993.20" width="20.70" height="15.20" fill="#3467ff"/>
<rect x="1087.49" y="993.20" width="20.70" height="15.20" fill="#3467ff"/>
<rect x="828.71" y="1008.10" width="20.70" height="15.20" fill="#2e61ff"/>
<rect x="1087.49" y="1008.10" width="20.70" height="15.20" fill="#2e61ff"/>
<rect x="828.71" y="1023.00" width="20.70" height="15.20" fill="#285bff"/>
<rect x="1087.49" y="1023.00" width="20.70" height="15.20" fill="#285bff"/>
<rect x="828.71" y="1037.90" width="20.70" height="15.20" fill="#2255ff"/>
<rect x="1087.49" y="1037.90" width="20.70" height="15.20" fill="#2255ff"/>
<rect x="828.71" y="1052.80" width="20.70" height="6.50" fill="#1d50ff"/>
<rect x="1087.49" y="1052.80" width="20.70" height="6.50" fill="#1d50ff"/>
<rect x="828.71" y="1059.00" width="20.70" height="90.50" fill="#0000d2"/>
<rect x="1087.49" y="1059.00" width="20.70" height="90.50" fill="#0000d2"/>
<rect x="849.41" y="546.20" width="20.70" height="15.20" fill="#b2e5ff"/>
<rect x="1066.79" y="546.20" width="20.70" height="15.20" fill="#b2e5ff"/>
<rect x="849.41" y="561.10" width="20.70" height="15.20" fill="#acdfff"/>
<rect x="1066.79" y="561.10" width="20.70" height="15.20" fill="#acdfff"/>
<rect x="849.41" y="576.00" width="20.70" height="15.20" fill="#a5d8ff"/>
<rect x="1066.79" y="576.00" width="20.70" height="15.20" fill="#a5d8ff"/>
<rect x="849.41" y="590.90" width="20.70" height="15.20" fill="#9fd2ff"/>
<rect x="1066.79" y="590.90" width="20.70" height="15.20" fill="#9fd2ff"/>
<rect x="849.41" y="605.80" width="20.70" height="15.20" fill="#99ccff"/>
<rect x="1066.79" y="605.80" width="20.70" height="15.20" fill="#99ccff"/>
<rect x="849.41" y="620.70" width="20.70" height="15.20" fill="#92c5ff"/>
<rect x="1066.79" y="620.70" width="20.70" height="15.20" fill="#92c5ff"/>
<rect x="849.41" y="635.60" width="20.70" height="15.20" fill="#8cbfff"/>
<rect x="1066.79" y="635.60" width="20.70" height="15.20" fill="#8cbfff"/>
<rect x="849.41" y="650.50" width="20.70" height="15.20" fill="#86b9ff"/>
<rect x="1066.79" y="650.50" width="20.70" height="15.20" fill="#86b9ff"/>
<rect x="849.41" y="665.40" width="20.70" height="15.20" fill="#7fb2ff"/>
<rect x="1066.79" y="665.40" width="20.70" height="15.20" fill="#7fb2ff"/>
<rect x="849.41" y="680.30" width="20.70" height="15.20" fill="#79acff"/>
<rect x="1066.79" y="680.30" width="20.70" height="15.20" fill="#79acff"/>
<rect x="849.41" y="695.20" width="20.70" height="15.20" fill="#73a6ff"/>
<rect x="1066.79" y="695.20" width="20.70" height="15.20" fill="#73a6ff"/>
<rect x="849.41" y="710.10" width="20.70" height="15.20" fill="#6da0ff"/>
<rect x="1066.79" y="710.10" width="20.70" height="15.20" fill="#6da0ff"/>
<rect x="849.41" y="725.00" width="20.70" height="15.20" fill="#6699ff"/>
<rect x="1066.79" y="725.00" width="20.70" height="15.20" fill="#6699ff"/>
<rect x="849.41" y="739.90" width="20.70" height="15.20" fill="#6093ff"/>
<rect x="1066.79" y="739.90" width="20.70" height="15.20" fill="#6093ff"/>
<rect x="849.41" y="754.80" width="20.70" height="15.20" fill="#5a8dff"/>
<rect x="1066.79" y="754.80" width="20.70" height="15.20" fill="#5a8dff"/>
<rect x="849.41" y="769.70" width="20.70" height="15.20" fill="#5386ff"/>
<rect x="1066.79" y="769.70" width="20.70" height="15.20" fill="#5386ff"/>
<rect x="849.41" y="784.60" width="20.70" height="15.20" fill="#4d80ff"/>
<rect x="1066.79" y="784.60" width="20.70" height="15.20" fill="#4d80ff"/>
<rect x="849.41" y="799.50" width="20.70" height="15.20" fill="#477aff"/>
<rect x="1066.79" y="799.50" width="20.70" height="15.20" fill="#477aff"/>
<rect x="849.41" y="814.40" width="20.70" height="15.20" fill="#4073ff"/>
<rect x="1066.79" y="814.40" width="20.70" height="15.20" fill="#4073ff"/>
<rect x="849.41" y="829.30" width="20.70" height="15.20" fill="#3a6dff"/>
<rect x="1066.79" y="829.30" width="20.70" height="15.20" fill="#3a6dff"/>
<rect x="849.41" y="844.20" width="20.70" height="15.20" fill="#3467ff"/>
<rect x="1066.79" y="844.20" width="20.70" height="15.20" fill="#3467ff"/>
<rect x="849.41" y="859.10" width="20.70" height="15.20" fill="#2d60ff"/>
<rect x="1066.79" y="859.10" width="20.70" height="15.20" fill="#2d60ff"/>
<rect x="849.41" y="874.00" width="20.70" height="15.20" fill="#275aff"/>
<rect x="1066.79" y="874.00" width="20.70" height="15.20" fill="#275aff"/>
<rect x="849.41" y="888.90" width="20.70" height="15.20" fill="#2154ff"/>
<rect x="1066.79" y="888.90" width="20.70" height="15.20" fill="#2154ff"/>
<rect x="849.41" y="903.80" width="20.70" height="15.20" fill="#1b4eff"/>
<rect x="1066.79" y="903.80" width="20.70" height="15.20" fill="#1b4eff"/>
<rect x="849.41" y="918.70" width="20.70" height="15.20" fill="#1447ff"/>
<rect x="1066.79" y="918.70" width="20.70" height="15.20" fill="#1447ff"/>
<rect x="849.41" y="933.60" width="20.70" height="12.30" fill="#0f42ff"/>
<rect x="1066.79" y="933.60" width="20.70" height="12.30" fill="#0f42ff"/>
<rect x="849.41" y="945.60" width="20.70" height="203.90" fill="#0000d2"/>
<rect x="1066.79" y="945.60" width="20.70" height="203.90" fill="#0000d2"/>
<rect x="870.11" y="546.20" width="20.70" height="15.20" fill="#6da0ff"/>
<rect x="1046.08" y="546.20" width="20.70" height="15.20" fill="#6da0ff"/>
<rect x="870.11" y="561.10" width="20.70" height="15.20" fill="#679aff"/>
<rect x="1046.08" y="561.10" width="20.70" height="15.20" fill="#679aff"/>
<rect x="870.11" y="576.00" width="20.70" height="15.20" fill="#6093ff"/>
<rect x="1046.08" y="576.00" width="20.70" height="15.20" fill="#6093ff"/>
<rect x="870.11" y="590.90" width="20.70" height="15.20" fill="#5a8dff"/>
<rect x="1046.08" y="590.90" width="20.70" height="15.20" fill="#5a8dff"/>
<rect x="870.11" y="605.80" width="20.70" height="15.20" fill="#5487ff"/>
<rect x="1046.08" y="605.80" width="20.70" height="15.20" fill="#5487ff"/>
<rect x="870.11" y="620.70" width="20.70" height="15.20" fill="#4e81ff"/>
<rect x="1046.08" y="620.70" width="20.70" height="15.20" fill="#4e81ff"/>
<rect x="870.11" y="635.60" width="20.70" height="15.20" fill="#477aff"/>
<rect x="1046.08" y="635.60" width="20.70" height="15.20" fill="#477aff"/>
<rect x="870.11" y="650.50" width="20.70" height="15.20" fill="#4174ff"/>
<rect x="1046.08" y="650.50" width="20.70" height="15.20" fill="#4174ff"/>
<rect x="870.11" y="665.40" width="20.70" height="15.20" fill="#3b6eff"/>
<rect x="1046.08" y="665.40" width="20.70" height="15.20" fill="#3b6eff"/>
<rect x="870.11" y="680.30" width="20.70" height="15.20" fill="#3467ff"/>
<rect x="1046.08" y="680.30" width="20.70" height="15.20" fill="#3467ff"/>
<rect x="870.11" y="695.20" width="20.70" height="15.20" fill="#2e61ff"/>
<rect x="1046.08" y="695.20" width="20.70" height="15.20" fill="#2e61ff"/>
<rect x="870.11" y="710.10" width="20.70" height="15.20" fill="#285bff"/>
<rect x="1046.08" y="710.10" width="20.70" height="15.20" fill="#285bff"/>
<rect x="870.11" y="725.00" width="20.70" height="15.20" fill="#2154ff"/>
<rect x="1046.08" y="725.00" width="20.70" height="15.20" fill="#2154ff"/>
<rect x="870.11" y="739.90" width="20.70" height="15.20" fill="#1b4eff"/>
<rect x="1046.08" y="739.90" width="20.70" height="15.20" fill="#1b4eff"/>
<rect x="870.11" y="754.80" width="20.70" height="15.20" fill="#1548ff"/>
<rect x="1046.08" y="754.80" width="20.70" height="15.20" fill="#1548ff"/>
<rect x="870.11" y="769.70" width="20.70" height="15.20" fill="#0e41ff"/>
<rect x="1046.08" y="769.70" width="20.70" height="15.20" fill="#0e41ff"/>
<rect x="870.11" y="784.60" width="20.70" height="1.80" fill="#0b3eff"/>
<rect x="1046.08" y="784.60" width="20.70" height="1.80" fill="#0b3eff"/>
<rect x="870.11" y="786.10" width="20.70" height="363.40" fill="#0000d2"/>
<rect x="1046.08" y="786.10" width="20.70" height="363.40" fill="#0000d2"/>
<rect x="890.82" y="546.20" width="155.27" height="15.20" fill="#3063ff"/>
<rect x="890.82" y="561.10" width="155.27" height="15.20" fill="#2a5dff"/>
<rect x="890.82" y="576.00" width="155.27" height="15.20" fill="#2558ff"/>
<rect x="890.82" y="590.90" width="155.27" height="15.20" fill="#1f52ff"/>
<rect x="890.82" y="605.80" width="155.27" height="15.20" fill="#194cff"/>
<rect x="890.82" y="620.70" width="155.27" height="15.20" fill="#1447ff"/>
<rect x="890.82" y="635.60" width="155.27" height="7.30" fill="#1043ff"/>
<rect x="890.82" y="642.60" width="155.27" height="506.90" fill="#0000d2"/>
<rect x="880.46" y="913.70" width="175.97" height="235.80" fill="#00008e"/>
<rect x="859.76" y="1026.00" width="217.38" height="123.50" fill="#00008e"/>
<rect x="839.06" y="1105.60" width="258.78" height="43.90" fill="#00008e"/>
</g>
<path d="M766.60,277.5V1149.5 M776.95,277.5V1149.5 M787.30,277.5V1149.5 M797.65,277.5V1149.5 M808.01,277.5V1149.5 M818.36,277.5V1149.5 M828.71,277.5V1149.5 M839.06,277.5V1149.5 M849.41,277.5V1149.5 M859.76,277.5V1149.5 M870.11,277.5V1149.5 M880.46,277.5V1149.5 M890.82,277.5V1149.5 M901.17,277.5V1149.5 M911.52,277.5V1149.5 M921.87,277.5V1149.5 M932.22,277.5V1149.5 M942.57,277.5V1149.5 M952.92,277.5V1149.5 M963.27,277.5V1149.5 M973.63,277.5V1149.5 M983.98,277.5V1149.5 M994.33,277.5V1149.5 M1004.68,277.5V1149.5 M1015.03,277.5V1149.5 M1025.38,277.5V1149.5 M1035.73,277.5V1149.5 M1046.08,277.5V1149.5 M1056.44,277.5V1149.5 M1066.79,277.5V1149.5 M1077.14,277.5V1149.5 M1087.49,277.5V1149.5 M1097.84,277.5V1149.5 M1108.19,277.5V1149.5 M1118.54,277.5V1149.5 M1128.89,277.5V1149.5 M1139.25,277.5V1149.5 M1149.60,277.5V1149.5 M1159.95,277.5V1149.5 M1170.30,277.5V1149.5" stroke="#000" stroke-opacity="0.92" stroke-width="1.35" fill="none"/>
<path d="M766.6,277.5H1170.30 M766.6,348.3H1170.30 M766.6,419.1H1170.30 M766.6,498.9H1170.30 M766.6,579.0H1170.30 M766.6,659.0H1170.30 M766.6,739.2H1170.30 M766.6,818.8H1170.30 M766.6,898.4H1170.30 M766.6,978.6H1170.30 M766.6,1058.6H1170.30 M766.6,1138.2H1170.30" stroke="#000" stroke-width="1.4" fill="none"/>
<rect x="767" y="287.8" width="11.8" height="4.5" fill="#000"/><rect x="775.8" y="278" width="3" height="14" fill="#000"/>
<path d="M1212.4,273.5V1150" stroke="#111" stroke-width="2" fill="none"/>
<path d="M766.6,273.5V1150" stroke="#111" stroke-width="1.2" fill="none"/>
<rect x="1175.8" y="324.4" width="31.1" height="37.2" fill="#f0f0f0"/>
<text x="0" y="0" transform="translate(1179.8,351.4) scale(0.74,1)" font-family="Liberation Sans, sans-serif" font-weight="bold" font-size="23.4" fill="#111">55</text>
<rect x="1175.8" y="462.9" width="31.1" height="37.2" fill="#f0f0f0"/>
<text x="0" y="0" transform="translate(1179.8,489.9) scale(0.74,1)" font-family="Liberation Sans, sans-serif" font-weight="bold" font-size="23.4" fill="#111">45</text>
<rect x="1175.8" y="610.2" width="31.1" height="37.2" fill="#f0f0f0"/>
<text x="0" y="0" transform="translate(1179.8,637.2) scale(0.74,1)" font-family="Liberation Sans, sans-serif" font-weight="bold" font-size="23.4" fill="#111">35</text>
<rect x="1175.8" y="757.9" width="31.1" height="37.2" fill="#f0f0f0"/>
<text x="0" y="0" transform="translate(1179.8,784.9) scale(0.74,1)" font-family="Liberation Sans, sans-serif" font-weight="bold" font-size="23.4" fill="#111">25</text>
<rect x="1175.8" y="906.8" width="31.1" height="37.2" fill="#f0f0f0"/>
<text x="0" y="0" transform="translate(1179.8,933.8) scale(0.74,1)" font-family="Liberation Sans, sans-serif" font-weight="bold" font-size="23.4" fill="#111">15</text>
<rect x="1175.8" y="1054.4" width="31.1" height="37.2" fill="#f0f0f0"/>
<text x="0" y="0" transform="translate(1179.8,1081.4) scale(0.74,1)" font-family="Liberation Sans, sans-serif" font-weight="bold" font-size="23.4" fill="#111">5</text>
</svg>
<svg style="position:absolute;left:0;top:0" width="1274" height="1651" viewBox="0 0 1274 1651" font-family="Liberation Sans, sans-serif">
<rect x="67" y="1150" width="1145" height="88" fill="#fff"/>
<path d="M212.7,1151V1237 M388.6,1151V1237 M551.3,1151V1237 M708.5,1151V1237 M873.2,1151V1237 M1036.5,1151V1237 M68,1214.2H1211" stroke="#d6d6d6" stroke-width="1.2" fill="none"/>
<text transform="translate(140.0,1174.7) scale(0.84,1)" font-size="17.5" fill="#1c1c1c" text-anchor="middle">Item</text>
<text transform="translate(71.2,1203.8) scale(0.924,1)" font-size="17.5" fill="#1c1c1c" text-anchor="start">Description</text>
<clipPath id="zc"><rect x="60" y="1140" width="1160" height="96.3"/></clipPath>
<g clip-path="url(#zc)">
<text transform="translate(71.0,1237.3) scale(0.9,1)" font-size="17.5" fill="#1c1c1c" text-anchor="start">Track Zone Ratio</text>
<text transform="translate(300.6,1237.3) scale(0.9,1)" font-size="17.5" fill="#1c1c1c" text-anchor="middle">7.14</text>
<text transform="translate(469.9,1237.3) scale(0.9,1)" font-size="17.5" fill="#1c1c1c" text-anchor="middle">1.75</text>
<text transform="translate(629.9,1237.3) scale(0.9,1)" font-size="17.5" fill="#1c1c1c" text-anchor="middle">1</text>
<text transform="translate(790.9,1237.3) scale(0.9,1)" font-size="17.5" fill="#1c1c1c" text-anchor="middle">1</text>
<text transform="translate(954.9,1237.3) scale(0.9,1)" font-size="17.5" fill="#1c1c1c" text-anchor="middle">1.75</text>
<text transform="translate(1124.2,1237.3) scale(0.9,1)" font-size="17.5" fill="#1c1c1c" text-anchor="middle">7.14</text>
</g>
<text transform="translate(301.1,1174.7) scale(0.903,1)" font-size="17.5" fill="#1c1c1c" text-anchor="middle">3L-7L:18L-18R</text>
<text transform="translate(301.1,1205.2) scale(0.935,1)" font-size="17.5" fill="#1c1c1c" text-anchor="middle">Outside Track:Middle</text>
<text transform="translate(470.4,1174.7) scale(0.903,1)" font-size="17.5" fill="#1c1c1c" text-anchor="middle">8L-12L:18L-18R</text>
<text transform="translate(470.4,1205.2) scale(0.935,1)" font-size="17.5" fill="#1c1c1c" text-anchor="middle">Middle Track:Middle</text>
<text transform="translate(630.4,1174.7) scale(0.903,1)" font-size="17.5" fill="#1c1c1c" text-anchor="middle">13L-17L:18L-18R</text>
<text transform="translate(630.4,1205.2) scale(0.935,1)" font-size="17.5" fill="#1c1c1c" text-anchor="middle">Inside Track:Middle</text>
<text transform="translate(791.4,1174.7) scale(0.903,1)" font-size="17.5" fill="#1c1c1c" text-anchor="middle">18L-18R:17R-13R</text>
<text transform="translate(791.4,1205.2) scale(0.935,1)" font-size="17.5" fill="#1c1c1c" text-anchor="middle">MIddle: Inside Track</text>
<text transform="translate(955.4,1174.7) scale(0.903,1)" font-size="17.5" fill="#1c1c1c" text-anchor="middle">18L-18R:12R-8R</text>
<text transform="translate(955.4,1205.2) scale(0.935,1)" font-size="17.5" fill="#1c1c1c" text-anchor="middle">Middle:Middle Track</text>
<text transform="translate(1124.8,1174.7) scale(0.903,1)" font-size="17.5" fill="#1c1c1c" text-anchor="middle">18L-18R:7R-3R</text>
<text transform="translate(1124.8,1205.2) scale(0.935,1)" font-size="17.5" fill="#1c1c1c" text-anchor="middle">Middle:Outside Track</text>
<path d="M67,1238V1150H1211.6V1238" stroke="#111" stroke-width="2" fill="none"/>
<rect x="69" y="1236.5" width="1145" height="335" fill="#fff" stroke="#1a1a1a" stroke-width="1.6"/>
<rect x="75" y="1255" width="1113" height="316" fill="#fdfdfd"/>
<path d="M144.2,1555.5H1168 M144.2,1526.5H1168 M144.2,1497.5H1168 M144.2,1469.5H1168 M144.2,1440.5H1168 M144.2,1411.5H1168 M144.2,1383.5H1168 M144.2,1354.5H1168 M144.2,1325.5H1168" stroke="#380808" stroke-width="1.2" stroke-dasharray="3 1.2" fill="none"/>
<path d="M169.5,1298V1570.6 M194.5,1298V1570.6 M220.5,1298V1570.6 M245.5,1298V1570.6 M270.5,1298V1570.6 M295.5,1298V1570.6 M321.5,1298V1570.6 M346.5,1298V1570.6 M371.5,1298V1570.6 M397.5,1298V1570.6 M422.5,1298V1570.6 M447.5,1298V1570.6 M472.5,1298V1570.6 M498.5,1298V1570.6 M523.5,1298V1570.6 M548.5,1298V1570.6 M574.5,1298V1570.6 M599.5,1298V1570.6 M624.5,1298V1570.6 M649.5,1298V1570.6 M675.5,1298V1570.6 M700.5,1298V1570.6 M725.5,1298V1570.6 M750.5,1298V1570.6 M776.5,1298V1570.6 M801.5,1298V1570.6 M826.5,1298V1570.6 M852.5,1298V1570.6 M877.5,1298V1570.6 M902.5,1298V1570.6 M927.5,1298V1570.6 M953.5,1298V1570.6 M978.5,1298V1570.6 M1003.5,1298V1570.6 M1029.5,1298V1570.6 M1054.5,1298V1570.6 M1079.5,1298V1570.6 M1104.5,1298V1570.6 M1130.5,1298V1570.6 M1155.5,1298V1570.6" stroke="#000" stroke-width="1.25" stroke-dasharray="2.2 1.15" fill="none"/>
<g stroke="#111" stroke-width="1">
<rect x="238.8" y="1555.3" width="13" height="9.6" fill="#0000f0"/>
<rect x="238.8" y="1564.9" width="13" height="5.7" fill="#00cccc"/>
<rect x="264.1" y="1555.3" width="13" height="9.6" fill="#0000f0"/>
<rect x="264.1" y="1564.9" width="13" height="5.7" fill="#00cccc"/>
<rect x="289.4" y="1555.3" width="13" height="9.6" fill="#0000f0"/>
<rect x="289.4" y="1564.9" width="13" height="5.7" fill="#00cccc"/>
<rect x="314.7" y="1545.7" width="13" height="19.1" fill="#0000f0"/>
<rect x="314.7" y="1564.9" width="13" height="5.7" fill="#00cccc"/>
<rect x="340.0" y="1526.6" width="13" height="19.1" fill="#0000f0"/>
<rect x="340.0" y="1545.7" width="13" height="24.9" fill="#00cccc"/>
<rect x="365.2" y="1497.9" width="13" height="47.8" fill="#0000f0"/>
<rect x="365.2" y="1545.7" width="13" height="24.9" fill="#00cccc"/>
<rect x="390.5" y="1478.8" width="13" height="47.8" fill="#0000f0"/>
<rect x="390.5" y="1526.6" width="13" height="44.0" fill="#00cccc"/>
<rect x="415.8" y="1450.1" width="13" height="76.5" fill="#0000f0"/>
<rect x="415.8" y="1526.6" width="13" height="44.0" fill="#00cccc"/>
<rect x="441.1" y="1421.4" width="13" height="76.5" fill="#0000f0"/>
<rect x="441.1" y="1497.9" width="13" height="72.7" fill="#00cccc"/>
<rect x="466.4" y="1392.7" width="13" height="105.2" fill="#0000f0"/>
<rect x="466.4" y="1497.9" width="13" height="72.7" fill="#00cccc"/>
<rect x="491.7" y="1392.7" width="13" height="105.2" fill="#0000f0"/>
<rect x="491.7" y="1497.9" width="13" height="72.7" fill="#00cccc"/>
<rect x="516.9" y="1392.7" width="13" height="105.2" fill="#0000f0"/>
<rect x="516.9" y="1497.9" width="13" height="72.7" fill="#00cccc"/>
<rect x="542.2" y="1392.7" width="13" height="105.2" fill="#0000f0"/>
<rect x="542.2" y="1497.9" width="13" height="72.7" fill="#00cccc"/>
<rect x="567.5" y="1392.7" width="13" height="105.2" fill="#0000f0"/>
<rect x="567.5" y="1497.9" width="13" height="72.7" fill="#00cccc"/>
<rect x="592.8" y="1392.7" width="13" height="105.2" fill="#0000f0"/>
<rect x="592.8" y="1497.9" width="13" height="72.7" fill="#00cccc"/>
<rect x="618.1" y="1392.7" width="13" height="105.2" fill="#0000f0"/>
<rect x="618.1" y="1497.9" width="13" height="72.7" fill="#00cccc"/>
<rect x="643.3" y="1392.7" width="13" height="105.2" fill="#0000f0"/>
<rect x="643.3" y="1497.9" width="13" height="72.7" fill="#00cccc"/>
<rect x="668.6" y="1392.7" width="13" height="105.2" fill="#0000f0"/>
<rect x="668.6" y="1497.9" width="13" height="72.7" fill="#00cccc"/>
<rect x="693.9" y="1392.7" width="13" height="105.2" fill="#0000f0"/>
<rect x="693.9" y="1497.9" width="13" height="72.7" fill="#00cccc"/>
<rect x="719.2" y="1392.7" width="13" height="105.2" fill="#0000f0"/>
<rect x="719.2" y="1497.9" width="13" height="72.7" fill="#00cccc"/>
<rect x="744.5" y="1392.7" width="13" height="105.2" fill="#0000f0"/>
<rect x="744.5" y="1497.9" width="13" height="72.7" fill="#00cccc"/>
<rect x="769.8" y="1392.7" width="13" height="105.2" fill="#0000f0"/>
<rect x="769.8" y="1497.9" width="13" height="72.7" fill="#00cccc"/>
<rect x="795.0" y="1392.7" width="13" height="105.2" fill="#0000f0"/>
<rect x="795.0" y="1497.9" width="13" height="72.7" fill="#00cccc"/>
<rect x="820.3" y="1392.7" width="13" height="105.2" fill="#0000f0"/>
<rect x="820.3" y="1497.9" width="13" height="72.7" fill="#00cccc"/>
<rect x="845.6" y="1421.4" width="13" height="76.5" fill="#0000f0"/>
<rect x="845.6" y="1497.9" width="13" height="72.7" fill="#00cccc"/>
<rect x="870.9" y="1450.1" width="13" height="76.5" fill="#0000f0"/>
<rect x="870.9" y="1526.6" width="13" height="44.0" fill="#00cccc"/>
<rect x="896.2" y="1478.8" width="13" height="47.8" fill="#0000f0"/>
<rect x="896.2" y="1526.6" width="13" height="44.0" fill="#00cccc"/>
<rect x="921.5" y="1497.9" width="13" height="47.8" fill="#0000f0"/>
<rect x="921.5" y="1545.7" width="13" height="24.9" fill="#00cccc"/>
<rect x="946.7" y="1526.6" width="13" height="19.1" fill="#0000f0"/>
<rect x="946.7" y="1545.7" width="13" height="24.9" fill="#00cccc"/>
<rect x="972.0" y="1545.7" width="13" height="19.1" fill="#0000f0"/>
<rect x="972.0" y="1564.9" width="13" height="5.7" fill="#00cccc"/>
<rect x="997.3" y="1555.3" width="13" height="9.6" fill="#0000f0"/>
<rect x="997.3" y="1564.9" width="13" height="5.7" fill="#00cccc"/>
<rect x="1022.6" y="1555.3" width="13" height="9.6" fill="#0000f0"/>
<rect x="1022.6" y="1564.9" width="13" height="5.7" fill="#00cccc"/>
<rect x="1047.9" y="1555.3" width="13" height="9.6" fill="#0000f0"/>
<rect x="1047.9" y="1564.9" width="13" height="5.7" fill="#00cccc"/>
</g>
<path d="M144.2,1296V1570.6" stroke="#000" stroke-width="2.2" fill="none"/>
<path d="M137.2,1296.7H1169" stroke="#000" stroke-width="2.2" fill="none"/>
<path d="M1168.4,1291V1570.6" stroke="#333" stroke-width="1.3" fill="none"/>
<path d="M1168.6,1291.5V1298" stroke="#000" stroke-width="2" fill="none"/>
<path d="M144.2,1290.5V1297 M169.5,1290.5V1297 M194.8,1290.5V1297 M220.0,1290.5V1297 M245.3,1290.5V1297 M270.6,1290.5V1297 M295.9,1290.5V1297 M321.2,1290.5V1297 M346.5,1290.5V1297 M371.7,1290.5V1297 M397.0,1290.5V1297 M422.3,1290.5V1297 M447.6,1290.5V1297 M472.9,1290.5V1297 M498.2,1290.5V1297 M523.4,1290.5V1297 M548.7,1290.5V1297 M574.0,1290.5V1297 M599.3,1290.5V1297 M624.6,1290.5V1297 M649.8,1290.5V1297 M675.1,1290.5V1297 M700.4,1290.5V1297 M725.7,1290.5V1297 M751.0,1290.5V1297 M776.3,1290.5V1297 M801.5,1290.5V1297 M826.8,1290.5V1297 M852.1,1290.5V1297 M877.4,1290.5V1297 M902.7,1290.5V1297 M928.0,1290.5V1297 M953.2,1290.5V1297 M978.5,1290.5V1297 M1003.8,1290.5V1297 M1029.1,1290.5V1297 M1054.4,1290.5V1297 M1079.7,1290.5V1297 M1104.9,1290.5V1297 M1130.2,1290.5V1297 M1155.5,1290.5V1297" stroke="#000" stroke-width="2" fill="none"/>
<path d="M137.2,1555.3H144.2 M137.2,1526.6H144.2 M137.2,1497.9H144.2 M137.2,1469.2H144.2 M137.2,1440.5H144.2 M137.2,1411.8H144.2 M137.2,1383.1H144.2 M137.2,1354.4H144.2 M137.2,1325.7H144.2" stroke="#000" stroke-width="2" fill="none"/>
<text transform="translate(126.8,1272.8) scale(1.165,1)" font-size="14.7" font-weight="bold" fill="#48d1cc">Forward Oil</text>
<text transform="translate(262,1272.8) scale(1.165,1)" font-size="14.7" font-weight="bold" fill="#00009c">Reverse Oil</text>
<text transform="translate(144.2,1284.5) scale(1.12,1)" font-size="14" fill="#222" text-anchor="middle">0</text>
<text transform="translate(169.5,1284.5) scale(1.12,1)" font-size="14" fill="#222" text-anchor="middle">1</text>
<text transform="translate(194.8,1284.5) scale(1.12,1)" font-size="14" fill="#222" text-anchor="middle">2</text>
<text transform="translate(220.0,1284.5) scale(1.12,1)" font-size="14" fill="#222" text-anchor="middle">3</text>
<text transform="translate(245.3,1284.5) scale(1.12,1)" font-size="14" fill="#222" text-anchor="middle">4</text>
<text transform="translate(270.6,1284.5) scale(1.12,1)" font-size="14" fill="#222" text-anchor="middle">5</text>
<text transform="translate(295.9,1284.5) scale(1.12,1)" font-size="14" fill="#222" text-anchor="middle">6</text>
<text transform="translate(321.2,1284.5) scale(1.12,1)" font-size="14" fill="#222" text-anchor="middle">7</text>
<text transform="translate(346.5,1284.5) scale(1.12,1)" font-size="14" fill="#222" text-anchor="middle">8</text>
<text transform="translate(371.7,1284.5) scale(1.12,1)" font-size="14" fill="#222" text-anchor="middle">9</text>
<text transform="translate(397.0,1284.5) scale(1.12,1)" font-size="14" fill="#222" text-anchor="middle">10</text>
<text transform="translate(422.3,1284.5) scale(1.12,1)" font-size="14" fill="#222" text-anchor="middle">11</text>
<text transform="translate(447.6,1284.5) scale(1.12,1)" font-size="14" fill="#222" text-anchor="middle">12</text>
<text transform="translate(472.9,1284.5) scale(1.12,1)" font-size="14" fill="#222" text-anchor="middle">13</text>
<text transform="translate(498.2,1284.5) scale(1.12,1)" font-size="14" fill="#222" text-anchor="middle">14</text>
<text transform="translate(523.4,1284.5) scale(1.12,1)" font-size="14" fill="#222" text-anchor="middle">15</text>
<text transform="translate(548.7,1284.5) scale(1.12,1)" font-size="14" fill="#222" text-anchor="middle">16</text>
<text transform="translate(574.0,1284.5) scale(1.12,1)" font-size="14" fill="#222" text-anchor="middle">17</text>
<text transform="translate(599.3,1284.5) scale(1.12,1)" font-size="14" fill="#222" text-anchor="middle">18</text>
<text transform="translate(624.6,1284.5) scale(1.12,1)" font-size="14" fill="#222" text-anchor="middle">19</text>
<text transform="translate(649.8,1284.5) scale(1.12,1)" font-size="14" fill="#222" text-anchor="middle">20</text>
<text transform="translate(675.1,1284.5) scale(1.12,1)" font-size="14" fill="#222" text-anchor="middle">19</text>
<text transform="translate(700.4,1284.5) scale(1.12,1)" font-size="14" fill="#222" text-anchor="middle">18</text>
<text transform="translate(725.7,1284.5) scale(1.12,1)" font-size="14" fill="#222" text-anchor="middle">17</text>
<text transform="translate(751.0,1284.5) scale(1.12,1)" font-size="14" fill="#222" text-anchor="middle">16</text>
<text transform="translate(776.3,1284.5) scale(1.12,1)" font-size="14" fill="#222" text-anchor="middle">15</text>
<text transform="translate(801.5,1284.5) scale(1.12,1)" font-size="14" fill="#222" text-anchor="middle">14</text>
<text transform="translate(826.8,1284.5) scale(1.12,1)" font-size="14" fill="#222" text-anchor="middle">13</text>
<text transform="translate(852.1,1284.5) scale(1.12,1)" font-size="14" fill="#222" text-anchor="middle">12</text>
<text transform="translate(877.4,1284.5) scale(1.12,1)" font-size="14" fill="#222" text-anchor="middle">11</text>
<text transform="translate(902.7,1284.5) scale(1.12,1)" font-size="14" fill="#222" text-anchor="middle">10</text>
<text transform="translate(928.0,1284.5) scale(1.12,1)" font-size="14" fill="#222" text-anchor="middle">9</text>
<text transform="translate(953.2,1284.5) scale(1.12,1)" font-size="14" fill="#222" text-anchor="middle">8</text>
<text transform="translate(978.5,1284.5) scale(1.12,1)" font-size="14" fill="#222" text-anchor="middle">7</text>
<text transform="translate(1003.8,1284.5) scale(1.12,1)" font-size="14" fill="#222" text-anchor="middle">6</text>
<text transform="translate(1029.1,1284.5) scale(1.12,1)" font-size="14" fill="#222" text-anchor="middle">5</text>
<text transform="translate(1054.4,1284.5) scale(1.12,1)" font-size="14" fill="#222" text-anchor="middle">4</text>
<text transform="translate(1079.7,1284.5) scale(1.12,1)" font-size="14" fill="#222" text-anchor="middle">3</text>
<text transform="translate(1104.9,1284.5) scale(1.12,1)" font-size="14" fill="#222" text-anchor="middle">2</text>
<text transform="translate(1130.2,1284.5) scale(1.12,1)" font-size="14" fill="#222" text-anchor="middle">1</text>
<text transform="translate(1155.5,1284.5) scale(1.12,1)" font-size="14" fill="#222" text-anchor="middle">0</text>
<text transform="translate(130.6,1559.9) scale(1.145,1)" font-size="14" font-weight="bold" fill="#111" text-anchor="end">150</text>
<text transform="translate(130.6,1531.2) scale(1.145,1)" font-size="14" font-weight="bold" fill="#111" text-anchor="end">300</text>
<text transform="translate(130.6,1502.5) scale(1.145,1)" font-size="14" font-weight="bold" fill="#111" text-anchor="end">450</text>
<text transform="translate(130.6,1473.8) scale(1.145,1)" font-size="14" font-weight="bold" fill="#111" text-anchor="end">600</text>
<text transform="translate(130.6,1445.1) scale(1.145,1)" font-size="14" font-weight="bold" fill="#111" text-anchor="end">750</text>
<text transform="translate(130.6,1416.4) scale(1.145,1)" font-size="14" font-weight="bold" fill="#111" text-anchor="end">900</text>
<text transform="translate(130.6,1387.7) scale(1.145,1)" font-size="14" font-weight="bold" fill="#111" text-anchor="end">1050</text>
<text transform="translate(130.6,1359.0) scale(1.145,1)" font-size="14" font-weight="bold" fill="#111" text-anchor="end">1200</text>
<text transform="translate(130.6,1330.3) scale(1.145,1)" font-size="14" font-weight="bold" fill="#111" text-anchor="end">1350</text>
<text transform="translate(130.6,1301.6) scale(1.145,1)" font-size="14" font-weight="bold" fill="#111" text-anchor="end">1500</text>
</svg>
</body></html>
